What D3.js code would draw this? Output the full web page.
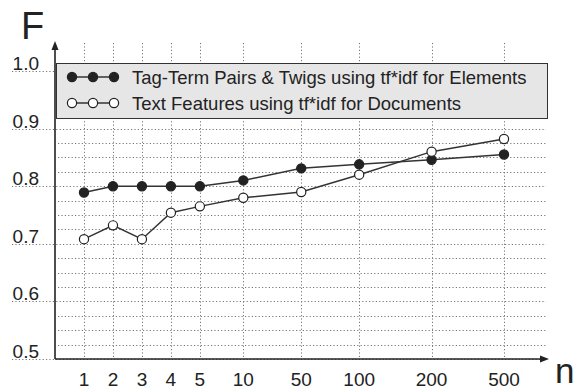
<!DOCTYPE html>
<html>
<head>
<meta charset="utf-8">
<script src="https://cdn.jsdelivr.net/npm/d3@7"></script>
<style>
  body { margin: 0; background: #fff; }
  text { font-family: "Liberation Sans", Arial, sans-serif; fill: #222; }
</style>
</head>
<body>
<div id="chart"></div>
<script>
// categories on the n axis (not evenly spaced in the original)
const categories = ['1', '2', '3', '4', '5', '10', '50', '100', '200', '500'];
const slots = [0, 2, 4, 6, 8, 11, 15, 19, 24, 29];
const tagTermTwigs = [0.789, 0.800, 0.800, 0.800, 0.800, 0.810, 0.831, 0.838, 0.846, 0.855];
const textFeatures = [0.708, 0.732, 0.708, 0.754, 0.765, 0.780, 0.790, 0.820, 0.860, 0.882];
const yTicks = [0.5, 0.6, 0.7, 0.8, 0.9, 1.0];
const seriesNames = ['Tag-Term Pairs & Twigs using tf*idf for Elements', 'Text Features using tf*idf for Documents'];

const width = 578, height = 391;
const svg = d3.select('#chart').append('svg')
  .attr('width', width)
  .attr('height', height);

const x0 = 55, xEnd = 546, yBottom = 359;
const x = d3.scaleLinear().domain([0, 29]).range([84, 504]);
const y = d3.scaleLinear().domain([0.5, 1.0]).range([yBottom, 71]);

const grid = svg.append('g')
  .attr('stroke', '#777')
  .attr('stroke-width', 1)
  .attr('stroke-dasharray', '1.2,2.2');

// minor horizontal grid every 0.025
const minor = d3.range(0.525, 1.0, 0.025).filter(v => Math.abs(v * 10 - Math.round(v * 10)) > 1e-6);
grid.selectAll('.minor').data(minor).enter().append('line')
  .attr('x1', x0 + 3).attr('x2', xEnd)
  .attr('y1', d => Math.round(y(d)) + 0.5).attr('y2', d => Math.round(y(d)) + 0.5);

// major lines extend under the labels
grid.selectAll('.major').data(yTicks).enter().append('line')
  .attr('x1', 12).attr('x2', xEnd)
  .attr('y1', d => Math.round(y(d)) + 0.5).attr('y2', d => Math.round(y(d)) + 0.5);

// vertical grid
grid.selectAll('.vert').data(slots).enter().append('line')
  .attr('x1', d => Math.round(x(d)) + 0.5).attr('x2', d => Math.round(x(d)) + 0.5)
  .attr('y1', 43).attr('y2', yBottom);

// y labels
svg.selectAll('.ylab').data(yTicks).enter().append('text')
  .attr('x', 39).attr('y', d => y(d) - 1)
  .attr('text-anchor', 'end')
  .style('font-size', '19px')
  .text(d => d.toFixed(1));

// x labels
svg.selectAll('.xlab').data(categories).enter().append('text')
  .attr('x', (d, i) => x(slots[i]))
  .attr('y', 386)
  .attr('text-anchor', 'middle')
  .style('font-size', '19px')
  .text(d => d);

// axes with arrows
const axes = svg.append('g').attr('stroke', '#222').attr('stroke-width', 1.6);
axes.append('line').attr('x1', x0).attr('x2', x0).attr('y1', yBottom).attr('y2', 48);
axes.append('line').attr('x1', x0).attr('x2', 542).attr('y1', yBottom).attr('y2', yBottom);
svg.append('path').attr('d', `M${x0},41 L${x0 - 3.5},50 L${x0 + 3.5},50 Z`).attr('fill', '#222');
svg.append('path').attr('d', `M549,${yBottom} L540,${yBottom - 3.5} L540,${yBottom + 3.5} Z`).attr('fill', '#222');

svg.append('text').attr('x', 21).attr('y', 39).style('font-size', '38px').text('F');
svg.append('text').attr('x', 555).attr('y', 383).style('font-size', '35px').text('n');

// series
const line = d3.line().x((d, i) => x(slots[i])).y(d => y(d));
const series = [
  { values: tagTermTwigs, fill: '#222' },
  { values: textFeatures, fill: '#fff' }
];

series.forEach(s => {
  svg.append('path')
    .datum(s.values)
    .attr('d', line)
    .attr('fill', 'none')
    .attr('stroke', '#333')
    .attr('stroke-width', 1.5);
  svg.selectAll(null).data(s.values).enter().append('circle')
    .attr('cx', (d, i) => x(slots[i]))
    .attr('cy', d => y(d))
    .attr('r', 4.6)
    .attr('fill', s.fill)
    .attr('stroke', '#222')
    .attr('stroke-width', 1.2);
});

// legend
const legend = svg.append('g');
legend.append('rect')
  .attr('x', 56.5).attr('y', 63.5).attr('width', 491).attr('height', 55)
  .attr('fill', '#e6e6e6').attr('stroke', '#333').attr('stroke-width', 1);
const legendRows = [77, 103];
const mx = [72, 93, 114];
series.forEach((s, i) => {
  const ly = legendRows[i];
  legend.append('line').attr('x1', mx[0]).attr('x2', mx[2]).attr('y1', ly).attr('y2', ly)
    .attr('stroke', '#333').attr('stroke-width', 1.5);
  legend.selectAll(null).data(mx).enter().append('circle')
    .attr('cx', d => d).attr('cy', ly).attr('r', 4.6)
    .attr('fill', s.fill).attr('stroke', '#222').attr('stroke-width', 1.2);
  legend.append('text')
    .attr('x', 132).attr('y', ly + 7)
    .style('font-size', '18.5px')
    .text(seriesNames[i]);
});
</script>
</body>
</html>
